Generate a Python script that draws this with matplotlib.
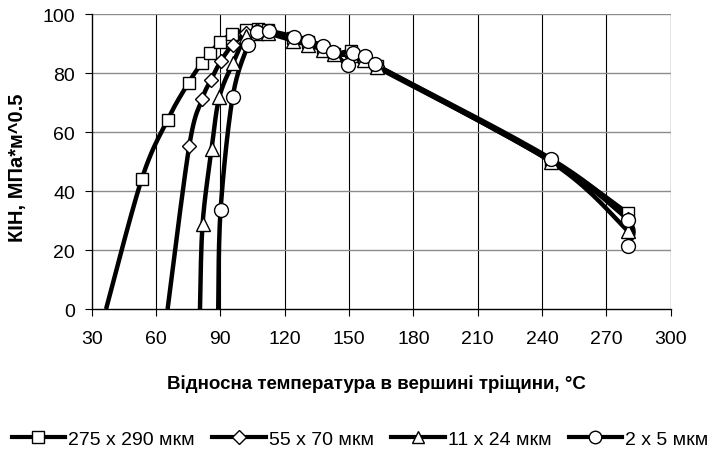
import numpy as np
import matplotlib
matplotlib.use("Agg")
import matplotlib.pyplot as plt
from matplotlib.lines import Line2D

plt.rcParams['font.family'] = ['Liberation Sans', 'DejaVu Sans']

labels = ["275 x 290 мкм", "55 x 70 мкм", "11 x 24 мкм", "2 x 5 мкм"]
markers = ["s", "D", "^", "o"]

t_sq = [36.7, 53.3, 65.4, 75.2, 81.5, 85.3, 89.8, 95.3, 102, 107.6, 112, 124, 131, 138, 143, 151, 157, 163, 244, 280]
k_sq = [0, 44, 64.2, 76.8, 83.6, 87, 90.4, 93.2, 94.6, 95, 94.5, 91.8, 90.5, 88.5, 86.5, 87.5, 85.5, 82.5, 50.3, 32.5]

t_di = [65.4, 75.5, 81.5, 85.6, 90.3, 95.7, 102, 107, 112, 124, 131, 138, 143, 151, 157, 163, 244, 280]
k_di = [0, 55.4, 71.2, 77.7, 84.2, 89.6, 93.5, 94.5, 94, 92, 90.5, 88.5, 87, 86.5, 85, 82.5, 50.5, 30.5]

t_tr = [80.5, 81.7, 85.9, 89.5, 96, 102, 107, 112, 124, 131, 138, 143, 151, 157, 163, 244, 280]
k_tr = [0, 28.8, 54.2, 71.8, 83.6, 92.5, 93.5, 93.5, 91, 89.5, 88, 86.5, 86, 84.5, 82, 50, 26.5]

t_ci = [89.0, 90.1, 95.7, 103, 107, 112.5, 124.5, 131, 138, 142.6, 149.6, 152, 157.4, 162, 244, 280, 280]
k_ci = [0, 33.6, 71.8, 89.6, 93.8, 94.3, 92.4, 91, 89.3, 87.2, 82.7, 86.7, 85.9, 83, 51, 30.3, 21.5]

series = [(t_sq, k_sq), (t_di, k_di), (t_tr, k_tr), (t_ci, k_ci)]

x_ticks = list(range(30, 301, 30))
y_ticks = list(range(0, 101, 20))


def smooth(x, y, sx, sy, n=20):
    # Catmull-Rom spline in (approx.) display-proportional space
    P = np.column_stack([np.asarray(x, float) * sx, np.asarray(y, float) * sy])
    P = np.vstack([P[0], P, P[-1]])
    out = []
    for i in range(1, len(P) - 2):
        p0, p1, p2, p3 = P[i - 1], P[i], P[i + 1], P[i + 2]
        tt = np.linspace(0, 1, n, endpoint=False)[:, None]
        c1 = p1 + (p2 - p0) / 6.0
        c2 = p2 - (p3 - p1) / 6.0
        seg = ((1 - tt) ** 3) * p1 + 3 * ((1 - tt) ** 2) * tt * c1 + 3 * (1 - tt) * tt ** 2 * c2 + tt ** 3 * p2
        out.append(seg)
    out.append(P[-2][None, :])
    out = np.vstack(out)
    return out[:, 0] / sx, out[:, 1] / sy


fig = plt.figure(figsize=(7.22, 4.60), dpi=100)
ax = fig.add_axes([0.127, 0.326, 0.802, 0.641])
ax.set_xlim(30, 300)
ax.set_ylim(0, 100)

sx = 580.0 / 270.0
sy = 295.0 / 100.0
msizes = {'s': 8, 'D': 7, '^': 10, 'o': 10}
for (t, k), m in zip(series, markers):
    xs, ys = smooth(t, k, sx, sy)
    ax.plot(xs, ys, color='black', lw=3.2, solid_capstyle='butt', zorder=3)
    ax.plot(t[1:], k[1:], linestyle='none', marker=m, ms=msizes[m],
            mfc='white', mec='black', mew=1.0, zorder=4)

ax.set_xticks(x_ticks)
ax.set_yticks(y_ticks)
for xv in x_ticks[1:-1]:
    ax.axvline(xv, color='black', lw=0.8, zorder=1)
ax.axvline(300, color='#808080', lw=1.0, zorder=1)
for yv in y_ticks[1:]:
    ax.axhline(yv, color='#8c8c8c', lw=1.0, zorder=1)

for s in ['top', 'right']:
    ax.spines[s].set_visible(False)
ax.spines['left'].set_linewidth(1.0)
ax.spines['bottom'].set_linewidth(1.0)
ax.tick_params(axis='both', direction='out', length=5, width=0.8, labelsize=14, colors='black')
ax.tick_params(axis='x', pad=10)
ax.tick_params(axis='y', pad=7)

fig.text(376 / 722, 1 - 384 / 460, "Відносна температура в вершині тріщини, °C",
         ha='center', va='center', fontsize=13.5, fontweight='bold')
fig.text(17.5 / 722, 1 - 168 / 460, "КІН, МПа*м^0.5", rotation=90,
         ha='center', va='center', fontsize=14.5, fontweight='bold')

lmsizes = {'s': 8, 'D': 7, '^': 9, 'o': 9}
handles = [Line2D([0], [0], color='black', lw=3, marker=m, ms=lmsizes[m],
                  mfc='white', mec='black', mew=1.0) for m in markers]
leg = fig.legend(handles, labels, loc='center', bbox_to_anchor=(360 / 722, 1 - 440 / 460),
                 ncol=4, frameon=False, handlelength=2.75,
                 columnspacing=0.9, handletextpad=0.15, borderpad=0, borderaxespad=0,
                 prop={'family': ['Liberation Sans'], 'size': 14})

fig.savefig("out.png", dpi=100)
